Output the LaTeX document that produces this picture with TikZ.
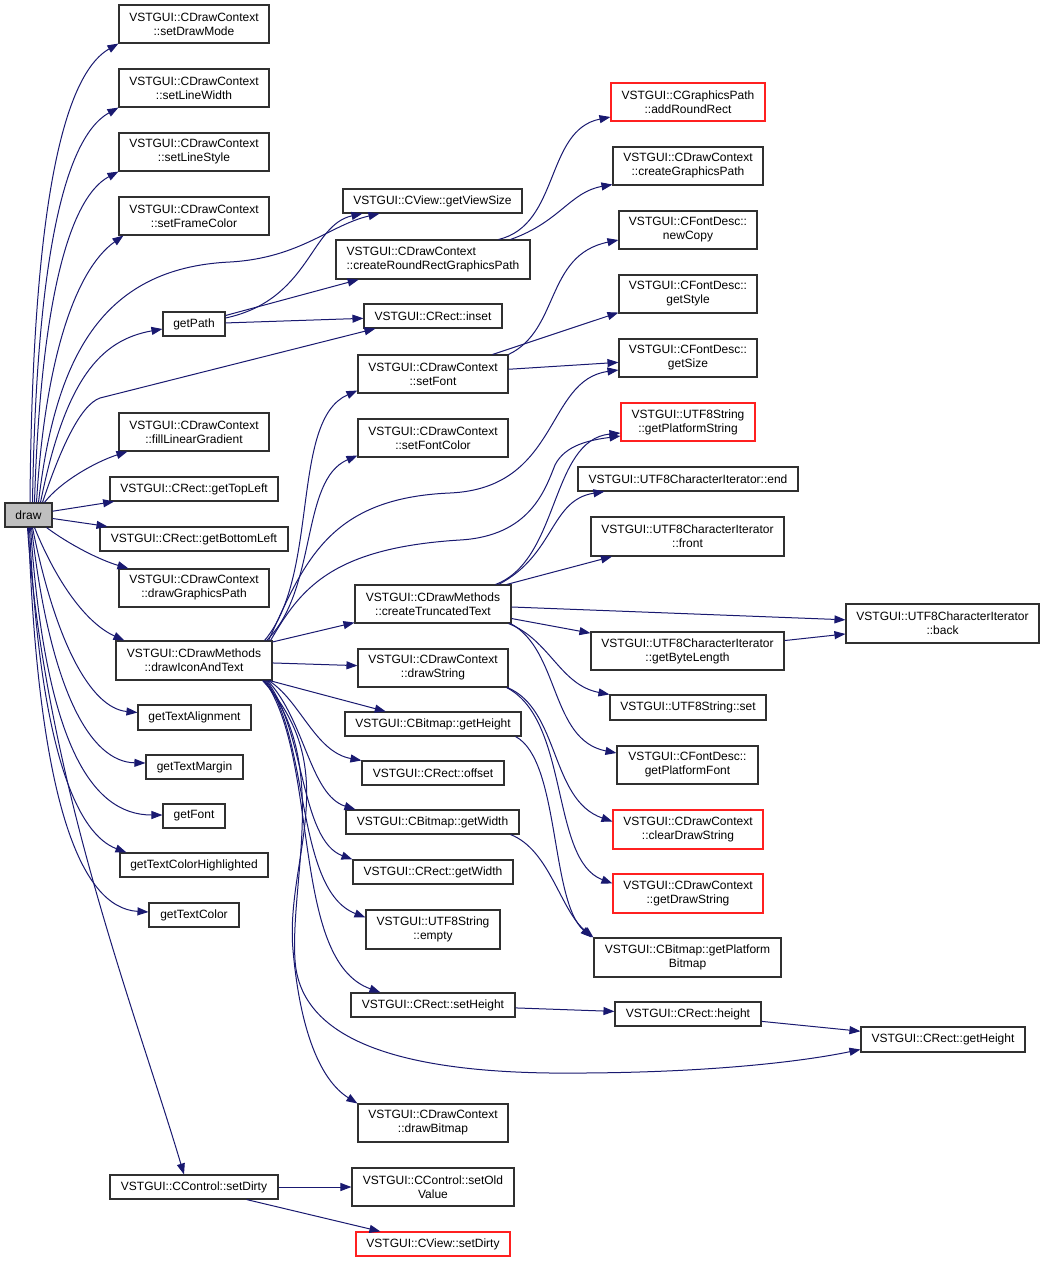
\documentclass[tikz,border=0pt]{standalone}
\usepackage{fontspec}
\setmainfont{Liberation Sans}
\usetikzlibrary{arrows.meta,calc}
\definecolor{edgeblue}{HTML}{191970}
\definecolor{boxline}{HTML}{303030}
\definecolor{boxred}{HTML}{FF2020}
\definecolor{boxgray}{HTML}{BFBFBF}
\begin{document}
\begin{tikzpicture}[x=1pt,y=-1pt,
  box/.style={draw=boxline, line width=1.1pt, fill=white, inner sep=0pt, align=center, font=\fontsize{12}{14}\selectfont},
  redbox/.style={box, draw=boxred},
  edge/.style={draw=edgeblue, line width=1pt, -{Triangle[length=11pt,width=8pt]}},
]
\fill[white] (0,0) rectangle (1045,1263);
\useasboundingbox (0,0) rectangle (1045,1263);

% column 1
\node[box, fill=boxgray, minimum width=47, minimum height=24] (drw) at (28.5,515) {draw};
\node[box, minimum width=150, minimum height=38] (sdm) at (194,24) {VSTGUI::CDrawContext\\::setDrawMode};
\node[box, minimum width=150, minimum height=38] (slw) at (194,88) {VSTGUI::CDrawContext\\::setLineWidth};
\node[box, minimum width=150, minimum height=38] (sls) at (194,152) {VSTGUI::CDrawContext\\::setLineStyle};
\node[box, minimum width=150, minimum height=38] (sfc) at (194,216) {VSTGUI::CDrawContext\\::setFrameColor};
\node[box, minimum width=62, minimum height=24] (gp) at (194,324) {getPath};
\node[box, minimum width=150, minimum height=38] (flg) at (194,432) {VSTGUI::CDrawContext\\::fillLinearGradient};
\node[box, minimum width=168, minimum height=24] (gtl) at (194,489) {VSTGUI::CRect::getTopLeft};
\node[box, minimum width=188, minimum height=24] (gbl) at (194,539) {VSTGUI::CRect::getBottomLeft};
\node[box, minimum width=150, minimum height=38] (dgp) at (194,588) {VSTGUI::CDrawContext\\::drawGraphicsPath};
\node[box, minimum width=156, minimum height=39] (dit) at (194,660.5) {VSTGUI::CDrawMethods\\::drawIconAndText};
\node[box, minimum width=113, minimum height=25] (gta) at (194.5,717.5) {getTextAlignment};
\node[box, minimum width=97, minimum height=24] (gtm) at (194.5,767) {getTextMargin};
\node[box, minimum width=62, minimum height=24] (gf) at (194,816) {getFont};
\node[box, minimum width=148, minimum height=24] (gtch) at (194,865) {getTextColorHighlighted};
\node[box, minimum width=90, minimum height=24] (gtc) at (194,915) {getTextColor};
\node[box, minimum width=168, minimum height=24] (ccsd) at (194,1187) {VSTGUI::CControl::setDirty};

% column 2
\node[box, minimum width=179, minimum height=24] (gvs) at (432.5,201) {VSTGUI::CView::getViewSize};
\node[box, align=left, minimum width=194, minimum height=39] (crrgp) at (433,259.5) {VSTGUI::CDrawContext\\::createRoundRectGraphicsPath};
\node[box, minimum width=138, minimum height=24] (inset) at (433,316) {VSTGUI::CRect::inset};
\node[box, minimum width=150, minimum height=38] (sf) at (433,374) {VSTGUI::CDrawContext\\::setFont};
\node[box, minimum width=150, minimum height=38] (sfc2) at (433,438) {VSTGUI::CDrawContext\\::setFontColor};
\node[box, minimum width=156, minimum height=38] (ctt) at (433,604) {VSTGUI::CDrawMethods\\::createTruncatedText};
\node[box, minimum width=150, minimum height=38] (ds) at (433,668) {VSTGUI::CDrawContext\\::drawString};
\node[box, minimum width=176, minimum height=24] (bgh) at (433,724) {VSTGUI::CBitmap::getHeight};
\node[box, minimum width=142, minimum height=24] (off) at (433,773) {VSTGUI::CRect::offset};
\node[box, minimum width=173, minimum height=24] (bgw) at (432.5,822) {VSTGUI::CBitmap::getWidth};
\node[box, minimum width=160, minimum height=24] (rgw) at (433,872) {VSTGUI::CRect::getWidth};
\node[box, minimum width=134, minimum height=39] (emp) at (433,929.5) {VSTGUI::UTF8String\\::empty};
\node[box, minimum width=164, minimum height=24] (sh) at (433,1005) {VSTGUI::CRect::setHeight};
\node[box, minimum width=150, minimum height=38] (db) at (433,1123) {VSTGUI::CDrawContext\\::drawBitmap};
\node[box, minimum width=162, minimum height=38] (sov) at (433,1187) {VSTGUI::CControl::setOld\\Value};
\node[redbox, minimum width=154, minimum height=24] (cvsd) at (433,1244) {VSTGUI::CView::setDirty};

% column 3
\node[redbox, minimum width=154, minimum height=38] (arr) at (688,102) {VSTGUI::CGraphicsPath\\::addRoundRect};
\node[box, minimum width=150, minimum height=38] (cgp) at (688,166) {VSTGUI::CDrawContext\\::createGraphicsPath};
\node[box, minimum width=138, minimum height=38] (nc) at (688,230) {VSTGUI::CFontDesc::\\newCopy};
\node[box, minimum width=138, minimum height=38] (gs) at (688,294) {VSTGUI::CFontDesc::\\getStyle};
\node[box, minimum width=138, minimum height=38] (gsz) at (688,358) {VSTGUI::CFontDesc::\\getSize};
\node[redbox, minimum width=134, minimum height=38] (gps) at (688,422) {VSTGUI::UTF8String\\::getPlatformString};
\node[box, minimum width=220, minimum height=24] (uend) at (688,479) {VSTGUI::UTF8CharacterIterator::end};
\node[box, minimum width=193, minimum height=39] (front) at (687.5,536.5) {VSTGUI::UTF8CharacterIterator\\::front};
\node[box, minimum width=193, minimum height=38] (gbyl) at (687.5,651) {VSTGUI::UTF8CharacterIterator\\::getByteLength};
\node[box, minimum width=156, minimum height=25] (uset) at (688,707.5) {VSTGUI::UTF8String::set};
\node[box, minimum width=141, minimum height=38] (gpf) at (687.5,765) {VSTGUI::CFontDesc::\\getPlatformFont};
\node[redbox, minimum width=150, minimum height=39] (cds) at (688,829.5) {VSTGUI::CDrawContext\\::clearDrawString};
\node[redbox, minimum width=150, minimum height=39] (gds) at (688,893.5) {VSTGUI::CDrawContext\\::getDrawString};
\node[box, minimum width=187, minimum height=39] (gpb) at (687.5,957.5) {VSTGUI::CBitmap::getPlatform\\Bitmap};
\node[box, minimum width=146, minimum height=24] (rh) at (688,1014) {VSTGUI::CRect::height};

% column 4
\node[box, minimum width=193, minimum height=39] (back) at (942.5,623.5) {VSTGUI::UTF8CharacterIterator\\::back};
\node[box, minimum width=164, minimum height=25] (crgh) at (943,1039.5) {VSTGUI::CRect::getHeight};

% edges from draw
\draw[edge] ($(drw.north)+(1.5,0)$) .. controls (32,250) and (55,80) .. (sdm.south west);
\draw[edge] ($(drw.north)+(4,0)$) .. controls (36,280) and (60,140) .. (slw.south west);
\draw[edge] ($(drw.north)+(6,0)$) .. controls (40,320) and (65,200) .. (sls.south west);
\draw[edge] ($(drw.north)+(8,0)$) .. controls (45,360) and (75,270) .. ($(sfc.south west)+(5,0)$);
\draw[edge] ($(drw.north)+(10,0)$) .. controls (55,360) and (100,268) .. (230,262) .. controls (300,258) and (330,225) .. ($(gvs.south west)+(37,0)$);
\draw[edge] ($(drw.north)+(12,0)$) .. controls (65,380) and (100,340) .. ($(gp.west)+(0,5)$);
\draw[edge] ($(drw.north)+(14,0)$) .. controls (60,450) and (80,405) .. (100,398) -- ($(inset.south west)+(12,0)$);
\draw[edge] ($(drw.north)+(16,0)$) .. controls (60,482) and (95,462) .. ($(flg.south west)+(9,0)$);
\draw[edge] (drw) -- (gtl);
\draw[edge] (drw) -- (gbl);
\draw[edge] ($(drw.south east)+(-6,0)$) .. controls (70,545) and (100,560) .. ($(dgp.north west)+(10,0)$);
\draw[edge] ($(drw.south)+(6,0)$) .. controls (60,590) and (90,625) .. ($(dit.north west)+(9,0)$);
\draw[edge] ($(drw.south)+(4,0)$) .. controls (55,640) and (90,708) .. ($(gta.west)+(0,-5)$);
\draw[edge] ($(drw.south)+(3,0)$) .. controls (50,690) and (90,762) .. ($(gtm.west)+(0,-4)$);
\draw[edge] ($(drw.south)+(2,0)$) .. controls (45,740) and (90,815) .. ($(gf.west)+(0,-1)$);
\draw[edge] ($(drw.south)+(1,0)$) .. controls (40,760) and (80,835) .. ($(gtch.north west)+(7,0)$);
\draw[edge] (drw.south) .. controls (38,800) and (80,908) .. ($(gtc.west)+(0,-3)$);
\draw[edge] ($(drw.south)+(-1,0)$) .. controls (45,780) and (135,1010) .. ($(ccsd.north)+(-10,0)$);

% getPath
\draw[edge] ($(gp.east)+(0,-6)$) .. controls (310,300) and (310,225) .. ($(gvs.south west)+(20,0)$);
\draw[edge] (gp) -- (crrgp);
\draw[edge] (gp) -- (inset);

% createRoundRectGraphicsPath
\draw[edge] ($(crrgp.north east)+(-32,0)$) .. controls (560,225) and (545,130) .. ($(arr.west)+(0,15)$);
\draw[edge] ($(crrgp.north east)+(-20,0)$) .. controls (560,222) and (570,192) .. ($(cgp.south west)+(0,-1)$);

% setFont
\draw[edge] (sf.north east) .. controls (560,330) and (545,255) .. ($(nc.west)+(0,10)$);
\draw[edge] ($(sf.north east)+(-16,0)$) -- ($(gs.south west)+(0,-1)$);
\draw[edge] (sf) -- (gsz);

% drawIconAndText
\draw[edge] ($(dit.north east)+(-8,0)$) .. controls (320,575) and (290,420) .. ($(sf.south west)+(0,-3)$);
\draw[edge] ($(dit.north east)+(-6,0)$) .. controls (318,590) and (300,480) .. ($(sfc2.south west)+(0,-2)$);
\draw[edge] ($(dit.north east)+(-4,0)$) .. controls (305,560) and (330,498) .. (450,493) .. controls (560,488) and (545,380) .. ($(gsz.west)+(0,12)$);
\draw[edge] ($(dit.north east)+(-2,0)$) .. controls (300,590) and (330,548) .. (460,540) .. controls (530,536) and (545,490) .. (555,465) .. controls (565,445) and (590,440) .. ($(gps.west)+(0,14)$);
\draw[edge] (dit) -- (ctt);
\draw[edge] (dit) -- (ds);
\draw[edge] (dit) -- (bgh);
\draw[edge] ($(dit.south east)+(-4,0)$) .. controls (300,700) and (315,752) .. (off.north west);
\draw[edge] ($(dit.south east)+(-5,0)$) .. controls (305,720) and (310,795) .. ($(bgw.north west)+(10,0)$);
\draw[edge] ($(dit.south east)+(-6,0)$) .. controls (305,730) and (300,840) .. (rgw.north west);
\draw[edge] ($(dit.south east)+(-7,0)$) .. controls (310,740) and (295,890) .. ($(emp.west)+(0,-12)$);
\draw[edge] ($(dit.south east)+(-8,0)$) .. controls (320,760) and (290,960) .. ($(sh.north west)+(30,0)$);
\draw[edge] ($(dit.south east)+(-9,0)$) .. controls (330,760) and (290,880) .. (295,960) .. controls (300,1040) and (400,1071) .. (550,1073) .. controls (700,1074) and (800,1062) .. ($(crgh.west)+(0,10)$);
\draw[edge] ($(dit.south east)+(-10,0)$) .. controls (345,770) and (285,860) .. (293,950) .. controls (300,1030) and (320,1080) .. (db.north west);

% createTruncatedText
\draw[edge] ($(ctt.north east)+(-16,0)$) .. controls (560,560) and (550,440) .. ($(gps.west)+(0,11)$);
\draw[edge] ($(ctt.north east)+(-13,0)$) .. controls (555,555) and (550,500) .. ($(uend.south west)+(27,0)$);
\draw[edge] (ctt) -- (front);
\draw[edge] (ctt) -- (back);
\draw[edge] (ctt) -- (gbyl);
\draw[edge] ($(ctt.south east)+(-3,0)$) .. controls (550,640) and (560,685) .. (uset.north west);
\draw[edge] ($(ctt.south east)+(-1,0)$) .. controls (560,650) and (550,740) .. ($(gpf.west)+(0,-12)$);

% drawString
\draw[edge] ($(ds.south east)+(-1,0)$) .. controls (560,710) and (550,800) .. ($(cds.west)+(0,-8)$);
\draw[edge] ($(ds.south east)+(-2,0)$) .. controls (570,720) and (550,860) .. ($(gds.west)+(0,-10)$);

% bitmap
\draw[edge] ($(bgh.south east)+(-6,0)$) .. controls (560,760) and (550,900) .. ($(gpb.north west)+(-2,0)$);
\draw[edge] ($(bgw.south east)+(-9,0)$) .. controls (550,850) and (560,910) .. (gpb.north west);

% others
\draw[edge] (gbyl) -- (back);
\draw[edge] (sh) -- (rh);
\draw[edge] (rh) -- (crgh);
\draw[edge] (ccsd) -- (sov);
\draw[edge] (ccsd) -- (cvsd);
\end{tikzpicture}
\end{document}
